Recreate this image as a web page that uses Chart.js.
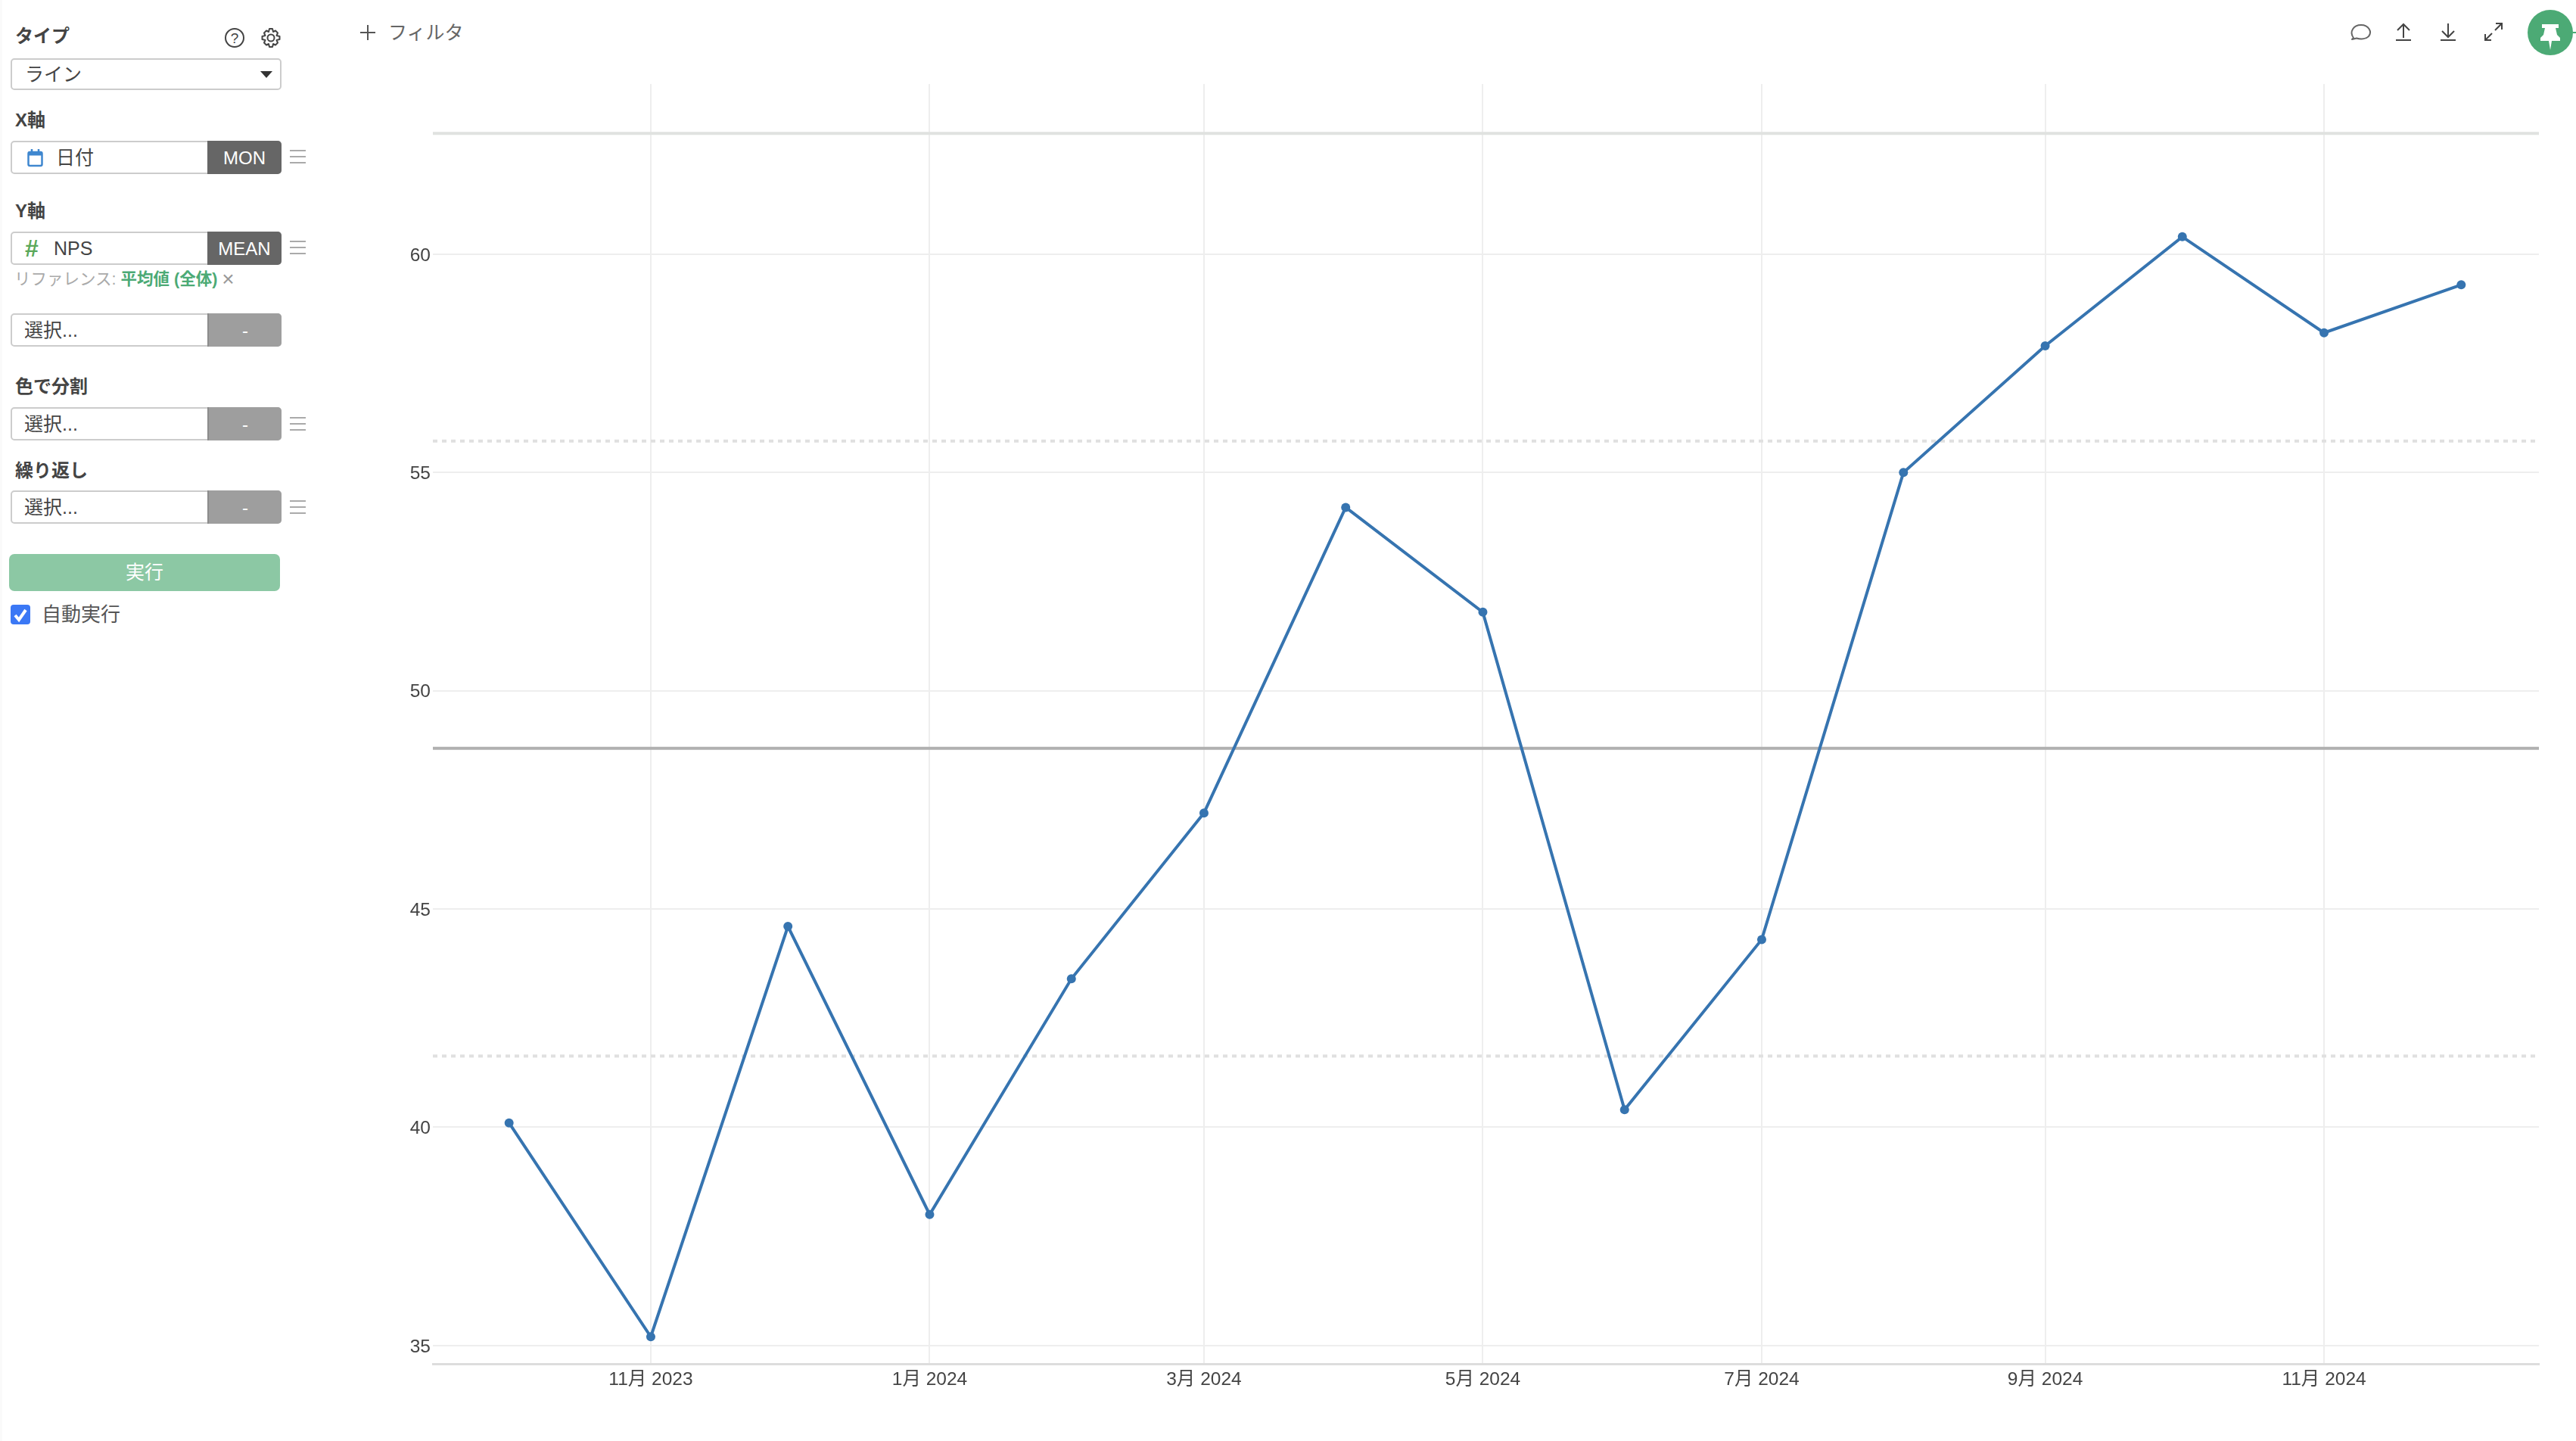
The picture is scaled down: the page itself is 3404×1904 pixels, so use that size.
<!DOCTYPE html>
<html lang="ja">
<head>
<meta charset="utf-8">
<title>NPS</title>
<script src="https://cdn.jsdelivr.net/npm/chart.js@4"></script>
<style>
html, body { margin: 0; padding: 0; background: #fff; }
body { width: 3404px; height: 1904px; position: relative; overflow: hidden; font-family: "Liberation Sans", "Noto Sans CJK JP", sans-serif; color: #444; }
#strip { position: absolute; left: 0; top: 0; width: 3px; height: 1904px; background: #fafafa; }
canvas { position: absolute; left: 460px; top: 90px; }
.t { position: absolute; white-space: nowrap; line-height: 1; transform: translateY(-50%); }
.lab { left: 20px; font-size: 24px; font-weight: bold; color: #444; }
.box { position: absolute; left: 14px; width: 358px; height: 44px; box-sizing: border-box; border: 2px solid #ccc; border-radius: 5px; background: #fff; }
.tag { position: absolute; left: 274px; width: 98px; height: 44px; box-sizing: border-box; border-radius: 0 5px 5px 0; color: #fff; font-size: 24px; line-height: 46px; text-align: center; background: #666; }
.tag.off { background: #9e9e9e; border-left: 2px solid #8c8c8c; }
.ham { position: absolute; left: 383px; width: 21px; height: 18px; border-top: 2px solid #aaa; border-bottom: 2px solid #aaa; box-sizing: border-box; }
.ham::after { content: ""; position: absolute; left: 0; right: 0; top: 6px; height: 2px; background: #aaa; }
.val { left: 32px; font-size: 25px; color: #444; }
svg { position: absolute; overflow: visible; }
</style>
</head>
<body>
<div id="strip"></div>

<div class="t lab" style="top:48px">タイプ</div>
<svg style="left:297px;top:37px" width="26" height="26" fill="none" stroke="#444" stroke-width="2"><circle cx="13" cy="13" r="12"/><text x="13" y="20" font-size="19" text-anchor="middle" fill="#444" stroke="none">?</text></svg>
<svg style="left:345px;top:37px" width="26" height="26" fill="none" stroke="#444" stroke-width="2"><circle cx="13" cy="13" r="4.5"/><path d="M11 1h4l1 4 3-1.500 3 3L20.500 10l4 1v4l-4 1 1.500 3.500-3 3L16 21l-1 4h-4l-1-4-3 1.500-3-3L5.500 16l-4-1v-4l4-1L4 6.500l3-3L10 5z" stroke-linejoin="round"/></svg>
<div class="box" style="top:77px;height:42px"></div>
<div class="t val" style="top:98px;left:33px">ライン</div>
<svg style="left:344px;top:94px" width="16" height="9"><path d="M0 0h16L8 9z" fill="#333"/></svg>

<div class="t lab" style="top:159px">X軸</div>
<div class="box" style="top:186px"></div>
<svg style="left:36px;top:197px" width="21" height="23" fill="none" stroke="#3f87cf" stroke-width="2.500"><rect x="1.500" y="4" width="18" height="18" rx="2"/><path d="M1.500 6h18" stroke-width="5"/><path d="M6 0v4M15 0v4"/></svg>
<div class="t val" style="top:208px;left:74px">日付</div>
<div class="tag" style="top:186px">MON</div>
<div class="ham" style="top:198px"></div>

<div class="t lab" style="top:279px">Y軸</div>
<div class="box" style="top:306px"></div>
<div class="t" style="top:328px;left:33px;font-size:32px;font-weight:bold;color:#5aa85a">#</div>
<div class="t val" style="top:328px;left:71px">NPS</div>
<div class="tag" style="top:306px">MEAN</div>
<div class="ham" style="top:318px"></div>
<div class="t" style="top:369px;left:19px;font-size:21.500px;color:#aaa">リファレンス: <b style="color:#4caa75">平均値 (全体)</b> <span style="color:#999;font-size:28px;vertical-align:-2px">×</span></div>

<div class="box" style="top:414px"></div>
<div class="t val" style="top:436px">選択...</div>
<div class="tag off" style="top:414px">-</div>

<div class="t lab" style="top:511px">色で分割</div>
<div class="box" style="top:538px"></div>
<div class="t val" style="top:560px">選択...</div>
<div class="tag off" style="top:538px">-</div>
<div class="ham" style="top:551px"></div>

<div class="t lab" style="top:622px">繰り返し</div>
<div class="box" style="top:648px"></div>
<div class="t val" style="top:670px">選択...</div>
<div class="tag off" style="top:648px">-</div>
<div class="ham" style="top:661px"></div>

<div style="position:absolute;left:12px;top:732px;width:358px;height:49px;border-radius:7px;background:#8cc8a4;color:#fff;font-size:25px;line-height:49px;text-align:center">実行</div>
<svg style="left:14px;top:799px" width="26" height="26"><rect width="26" height="26" rx="4" fill="#3b78f5"/><path d="M6 14l5 6 9-13" fill="none" stroke="#fff" stroke-width="4"/></svg>
<div class="t" style="top:812px;left:55px;font-size:26px;color:#555">自動実行</div>

<svg style="left:476px;top:33px" width="20" height="20" stroke="#555" stroke-width="2"><path d="M0 10h20M10 0v20"/></svg>
<div class="t" style="top:43px;left:513px;font-size:25px;color:#666">フィルタ</div>

<svg style="left:3106px;top:30px" width="28" height="26" fill="none" stroke="#666" stroke-width="2"><path d="M4 20C-2 12 4 3 14 3s15 9 10 15c-4 4-11 4-16 2.500L2 22z" stroke-linejoin="round"/></svg>
<svg style="left:3166px;top:30px" width="20" height="24" fill="none" stroke="#444" stroke-width="2"><path d="M10 20V2M2 10l8-8 8 8M0 23h20"/></svg>
<svg style="left:3225px;top:30px" width="20" height="24" fill="none" stroke="#444" stroke-width="2"><path d="M10 1v18M2 11l8 8 8-8M0 23h20"/></svg>
<svg style="left:3283px;top:30px" width="24" height="24" fill="none" stroke="#444" stroke-width="2"><path d="M14 10l8-8M15 1h8v8M10 14l-8 8M1 15v8h8"/></svg>
<svg style="left:3340px;top:13px" width="64" height="60"><circle cx="30" cy="30" r="30" fill="#4caa75"/><path d="M60 29h4v2h-4z" fill="#4caa75"/><path d="M19 19h22v5h-4l2 9 4 4v4H32l-2 12-2-12H17v-4l4-4 2-9h-4z" fill="#fff"/></svg>

<canvas id="npsChart" width="2944" height="1814"></canvas>

<script>
const months = ['2023-10-01', '2023-11-01', '2023-12-01', '2024-01-01', '2024-02-01', '2024-03-01', '2024-04-01', '2024-05-01', '2024-06-01', '2024-07-01', '2024-08-01', '2024-09-01', '2024-10-01', '2024-11-01', '2024-12-01'];
const nps = [40.1, 35.2, 44.6, 38.0, 43.4, 47.2, 54.2, 51.8, 40.4, 44.3, 55.0, 57.9, 60.4, 58.2, 59.3];

const tickMonths = ['2023-11-01', '2024-01-01', '2024-03-01', '2024-05-01', '2024-07-01', '2024-09-01', '2024-11-01'];
const tickLabels = ['11月 2023', '1月 2024', '3月 2024', '5月 2024', '7月 2024', '9月 2024', '11月 2024'];
const yTicks = [35, 40, 45, 50, 55, 60];

// reference lines: mean over everything, +/- 1 and 2 sd
const refMean = 48.68;
const refUpper1 = 55.72;
const refLower1 = 41.63;
const refUpper2 = 62.77;

const xStart = day('2023-09-14T08:00:00Z');
const xEnd = day('2024-12-18');

function day(s) {
    return Date.parse(s) / 86400000;
}

function refLine(value, color, width, dash) {
    return {
        data: [{ x: xStart, y: value }, { x: xEnd, y: value }],
        borderColor: color,
        borderWidth: width,
        borderDash: dash || [],
        pointRadius: 0,
        order: 2
    };
}

const font = { family: '"Liberation Sans", "Noto Sans CJK JP", sans-serif', size: 24.5 };

new Chart(document.getElementById('npsChart'), {
    type: 'line',
    data: {
        datasets: [
            refLine(refUpper2, '#e0e2e0', 4),
            refLine(refUpper1, '#e0e0e0', 4, [6, 6]),
            refLine(refLower1, '#e0e0e0', 4, [6, 6]),
            refLine(refMean, '#b0b0b0', 4),
            {
                data: months.map((m, i) => ({ x: day(m), y: nps[i] })),
                borderColor: '#3674b0',
                backgroundColor: '#3674b0',
                borderWidth: 4,
                pointRadius: 6,
                pointBorderWidth: 0,
                tension: 0,
                order: 1
            }
        ]
    },
    options: {
        responsive: false,
        animation: false,
        devicePixelRatio: 1,
        layout: { padding: { top: 21, right: 49, bottom: 0, left: 0 } },
        plugins: { legend: { display: false }, tooltip: { enabled: false } },
        scales: {
            x: {
                type: 'linear',
                min: xStart,
                max: xEnd,
                grid: { color: '#eeeeee', lineWidth: 2, tickLength: 0 },
                border: { color: '#dddddd', width: 3 },
                ticks: {
                    color: '#444',
                    font: font,
                    padding: 7,
                    maxRotation: 0,
                    autoSkip: false,
                    callback: (v) => tickLabels[tickMonths.findIndex(m => day(m) === v)]
                },
                afterBuildTicks: (axis) => { axis.ticks = tickMonths.map(m => ({ value: day(m) })); },
                afterFit: (axis) => { axis.height = 102; }
            },
            y: {
                min: 34.58,
                max: 63.9,
                grid: { color: '#eeeeee', lineWidth: 2, tickLength: 0 },
                border: { display: false },
                ticks: {
                    color: '#444',
                    // blank first line + tiny line height nudges the label 2px down onto the gridline
                    font: { family: font.family, size: font.size, lineHeight: 4 / 24.5 },
                    padding: 3,
                    autoSkip: false,
                    callback: (v) => ['', String(v)]
                },
                afterBuildTicks: (axis) => { axis.ticks = yTicks.map(v => ({ value: v })); },
                afterFit: (axis) => { axis.width = 112; }
            }
        }
    }
});
</script>
</body>
</html>
